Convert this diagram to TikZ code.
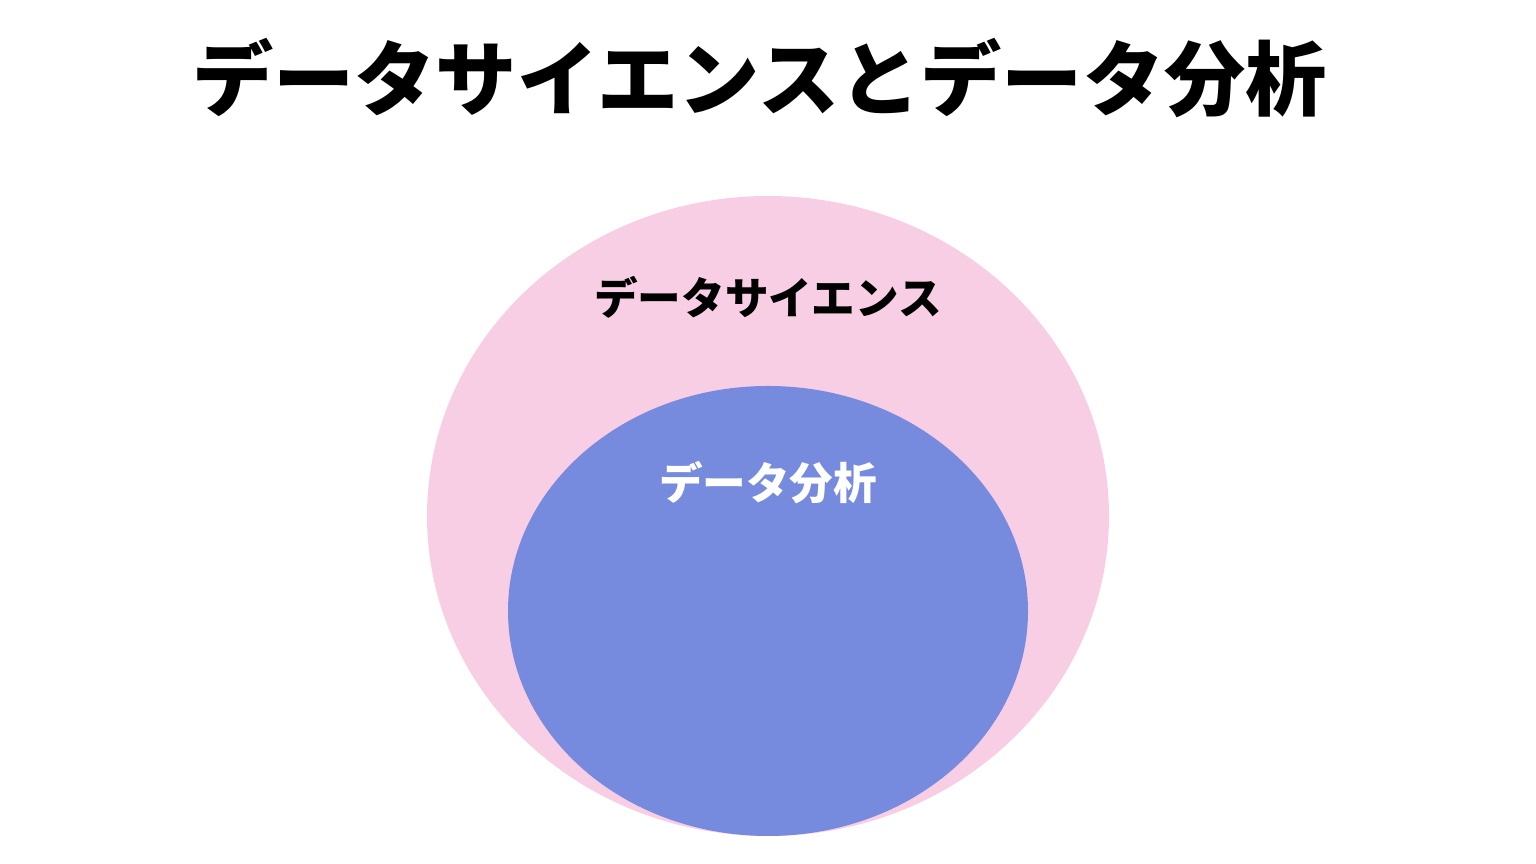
\documentclass[tikz,border=0pt]{standalone}
\usepackage{fontspec}
\newfontfamily\jp{Noto Sans CJK JP}
\usepackage{tikz}
\definecolor{dspink}{RGB}{248,206,228}
\definecolor{dablue}{RGB}{118,138,222}
\tikzset{lbl/.style={font=\jp\bfseries\fontsize{12.4pt}{14pt}\selectfont,inner sep=0pt}}

\begin{document}
\begin{tikzpicture}
\useasboundingbox(0,0)rectangle(15.36,8.64);
\coordinate(O)at(7.68,3.48);\coordinate(I)at(7.68,2.53);
\fill[dspink](O)ellipse[x radius=3.41,y radius=3.20];
\fill[dablue](I)ellipse[x radius=2.60,y radius=2.25];
\node[inner sep=0pt,font=\jp\bfseries\fontsize{23.1pt}{26pt}\selectfont](title)at(7.595,7.86){データサイエンスとデータ分析};
\node[lbl](ds)at(7.68,5.67){データサイエンス};
\node[lbl,text=white](da)at(7.68,3.81){データ分析};
\end{tikzpicture}
\end{document}
